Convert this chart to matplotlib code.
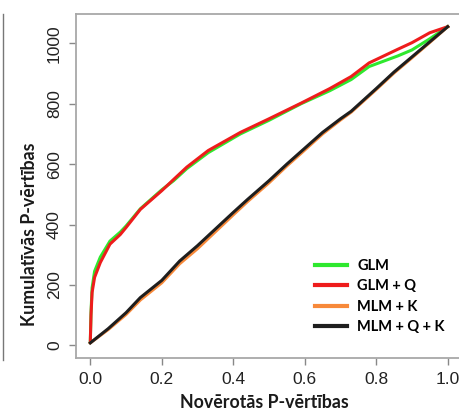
import matplotlib
matplotlib.use("Agg")
import matplotlib.pyplot as plt
from matplotlib.lines import Line2D

# ---- data ----
glm_x = [0, 0.002, 0.005, 0.012, 0.028, 0.055, 0.084, 0.1, 0.14, 0.2, 0.233, 0.27, 0.33, 0.42, 0.5, 0.59, 0.67, 0.73, 0.78, 0.86, 0.9, 0.95, 1.0]
glm_y = [10, 110, 190, 245, 292, 345, 375, 395, 452, 515, 545, 585, 638, 700, 745, 800, 843, 880, 923, 958, 978, 1015, 1055]

glmq_x = [0, 0.002, 0.005, 0.012, 0.028, 0.055, 0.084, 0.1, 0.14, 0.2, 0.233, 0.27, 0.33, 0.42, 0.5, 0.59, 0.67, 0.73, 0.78, 0.86, 0.9, 0.95, 1.0]
glmq_y = [10, 100, 175, 225, 274, 335, 367, 390, 450, 512, 549, 590, 645, 705, 750, 802, 850, 890, 935, 980, 1002, 1035, 1055]

mlmk_x = [0, 0.05, 0.1, 0.14, 0.2, 0.25, 0.3, 0.35, 0.4, 0.44, 0.5, 0.55, 0.59, 0.65, 0.7, 0.73, 0.8, 0.85, 0.9, 0.95, 1.0]
mlmk_y = [8, 52, 102, 150, 207, 270, 320, 376, 432, 476, 538, 594, 636, 700, 746, 772, 847, 902, 952, 1003, 1055]

mlmqk_x = [0, 0.05, 0.1, 0.14, 0.2, 0.25, 0.3, 0.35, 0.4, 0.44, 0.5, 0.55, 0.59, 0.65, 0.7, 0.73, 0.8, 0.85, 0.9, 0.95, 1.0]
mlmqk_y = [8, 55, 108, 158, 215, 279, 330, 385, 440, 483, 545, 600, 642, 705, 750, 775, 850, 905, 955, 1005, 1055]

labels = ["GLM", "GLM + Q", "MLM + K", "MLM + Q + K"]
colors = ["#2ee82e", "#ee1c1c", "#f7893a", "#1e1e1e"]

x_ticks = [0.0, 0.2, 0.4, 0.6, 0.8, 1.0]
x_ticklabels = ["0.0", "0.2", "0.4", "0.6", "0.8", "1.0"]
y_ticks = [0, 200, 400, 600, 800, 1000]
y_ticklabels = ["0", "200", "400", "600", "800", "1000"]

W, H = 459, 417
fig = plt.figure(figsize=(W / 100, H / 100), dpi=100)
fig.patch.set_facecolor("white")

# axes box: left 76px, top 14px, bottom 358px, right just past the figure
ax = fig.add_axes([76 / W, (H - 358) / H, (462 - 76) / W, (358 - 14) / H])

series = [(glm_x, glm_y), (glmq_x, glmq_y), (mlmk_x, mlmk_y), (mlmqk_x, mlmqk_y)]
for (xs, ys), lab, col in zip(series, labels, colors):
    ax.plot(xs, ys, color=col, lw=2.2, label=lab, solid_joinstyle="round")

ax.set_xlim(-0.04, 1.04)
ax.set_ylim(-42, 1097)

spine_col = "#a8a8a8"
for s in ["left", "top", "bottom", "right"]:
    ax.spines[s].set_color(spine_col)
    ax.spines[s].set_linewidth(1.3)

ax.set_xticks(x_ticks)
ax.set_xticklabels(x_ticklabels, fontfamily="Liberation Sans", fontsize=12.5, color="#222222")
ax.set_yticks(y_ticks)
ax.set_yticklabels(y_ticklabels, fontfamily="Liberation Sans", fontsize=12.5, color="#222222",
                   rotation=90, va="center")
ax.tick_params(axis="both", length=5, width=1.0, color="#888888")
ax.tick_params(axis="x", pad=5)
ax.tick_params(axis="y", pad=5)

leg = ax.legend(loc="upper left", bbox_to_anchor=(0.585, 0.327), frameon=False,
                handlelength=2.2, handletextpad=0.7, labelspacing=0.45,
                prop={"family": "Lato", "weight": "bold", "size": 10.5})
for line in leg.get_lines():
    line.set_linewidth(3)

fig.text(264 / W, 1 - 403 / H, "Novērotās P-vērtības", ha="center", va="center",
         fontfamily="Lato", fontweight="bold", fontsize=12.8, color="#1a1a1a")
fig.text(30 / W, 1 - 234 / H, "Kumulatīvās P-vērtības", ha="center", va="center",
         rotation=90, fontfamily="Lato", fontweight="bold", fontsize=12.8, color="#1a1a1a")

# thin frame line at the left edge of the image
fig.add_artist(Line2D([2.5 / W, 2.5 / W], [1 - 14 / H, 1 - 360 / H], color="#777777", lw=1.0,
                      transform=fig.transFigure))

fig.savefig("out.png", dpi=100, facecolor="white")
